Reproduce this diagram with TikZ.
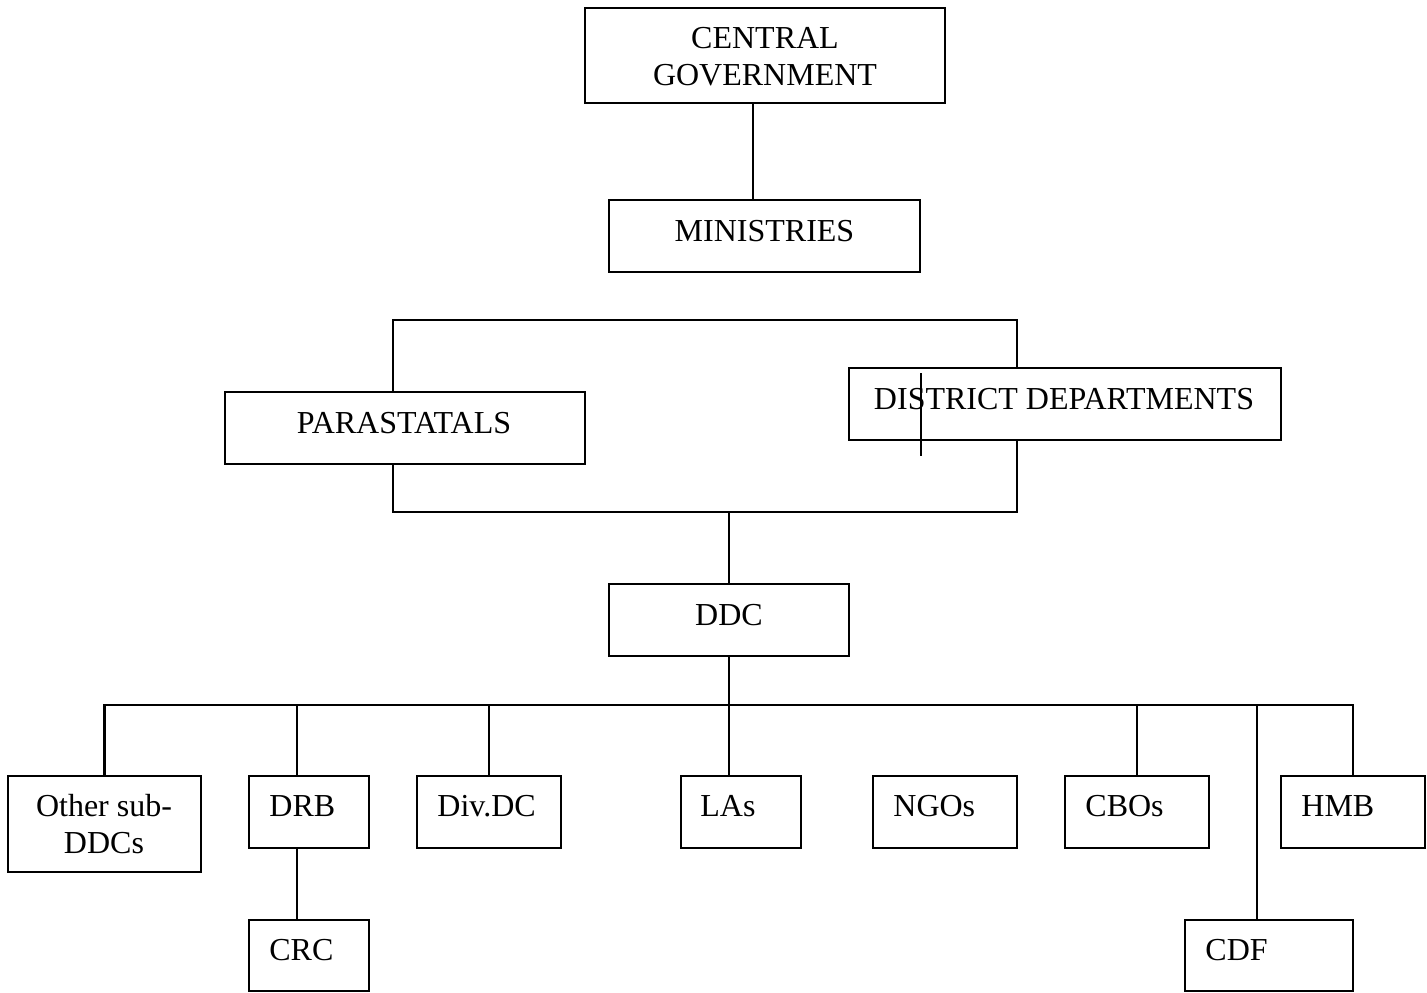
\documentclass[tikz,border=0pt]{standalone}
\usepackage{fontspec}
\setmainfont{Liberation Serif}
\usetikzlibrary{fit}
\begin{document}
\begin{tikzpicture}[x=0.5pt,y=-0.5pt,
  box/.style={draw=black, line width=1.1pt, rectangle, inner sep=0pt},
  txt/.style={inner sep=0pt, font=\fontsize{16}{18.5}\selectfont},
  conn/.style={draw=black, line width=1.1pt}]
\useasboundingbox (0,0) rectangle (1427,992);
% boxes
\node[box, fit={(585,8) (945,103)}] (cg) {};
\node[box, fit={(609,200) (920,272)}] (min) {};
\node[box, fit={(225,392) (585,464)}] (par) {};
\node[box, fit={(849,368) (1281,440)}] (dd) {};
\node[box, fit={(609,584) (849,656)}] (ddc) {};
\node[box, fit={(8,776) (201,872)}] (oth) {};
\node[box, fit={(249,776) (369,848)}] (drb) {};
\node[box, fit={(417,776) (561,848)}] (div) {};
\node[box, fit={(681,776) (801,848)}] (las) {};
\node[box, fit={(873,776) (1017,848)}] (ngo) {};
\node[box, fit={(1065,776) (1209,848)}] (cbo) {};
\node[box, fit={(1281,776) (1425,848)}] (hmb) {};
\node[box, fit={(249,920) (369,991)}] (crc) {};
\node[box, fit={(1185,920) (1353,991)}] (cdf) {};
% texts
\node[txt, anchor=base] (cgT1) at (765,48.5) {CENTRAL};
\node[txt, anchor=base] (cgT2) at (765,85.5) {GOVERNMENT};
\node[txt, anchor=base] (minT) at (764.5,241.5) {MINISTRIES};
\node[txt, anchor=base] (parT) at (404,433.5) {PARASTATALS};
\node[txt, anchor=base] (ddT) at (1064,409.5) {DISTRICT DEPARTMENTS};
\node[txt, anchor=base] (ddcT) at (729,625.5) {DDC};
\node[txt, anchor=base] (othT1) at (104,816.5) {Other sub-};
\node[txt, anchor=base] (othT2) at (104,853.5) {DDCs};
\node[txt, anchor=base west] (drbT) at (269,816.5) {DRB};
\node[txt, anchor=base west] (divT) at (437,816.5) {Div.DC};
\node[txt, anchor=base west] (lasT) at (700,816.5) {LAs};
\node[txt, anchor=base west] (ngoT) at (893,816.5) {NGOs};
\node[txt, anchor=base west] (cboT) at (1085,816.5) {CBOs};
\node[txt, anchor=base west] (hmbT) at (1301,816.5) {HMB};
\node[txt, anchor=base west] (crcT) at (269,960.5) {CRC};
\node[txt, anchor=base west] (cdfT) at (1205,960.5) {CDF};
% helper coordinates
\coordinate (x753) at (753,0);
\coordinate (x393) at (393,0);
\coordinate (x1017) at (1017,0);
\coordinate (x297) at (297,0);
\coordinate (x1257) at (1257,0);
\coordinate (y320) at (0,320);
\coordinate (y512) at (0,512);
\coordinate (bus) at (0,705);
\coordinate (strayA) at (921,373);
\coordinate (strayB) at (921,456);
% connectors
\draw[conn] (x753 |- cg.south) -- (x753 |- min.north);
\draw[conn] (x393 |- par.north) |- (x1017 |- y320) -- (x1017 |- dd.north);
\draw[conn] (x393 |- par.south) |- (x1017 |- y512) -- (x1017 |- dd.south);
\draw[conn] (ddc.north |- y512) -- (ddc.north);
\draw[conn] (ddc.south) -- (ddc.south |- las.north);
\draw[conn] (oth.north) |- (hmb.north |- bus) -- (hmb.north);
\draw[conn] (x297 |- bus) -- (x297 |- drb.north);
\draw[conn] (div.north |- bus) -- (div.north);
\draw[conn] (cbo.north |- bus) -- (cbo.north);
\draw[conn] (x1257 |- bus) -- (x1257 |- cdf.north);
\draw[conn] (x297 |- drb.south) -- (x297 |- crc.north);
\draw[conn] (strayA) -- (strayB);
\end{tikzpicture}
\end{document}
